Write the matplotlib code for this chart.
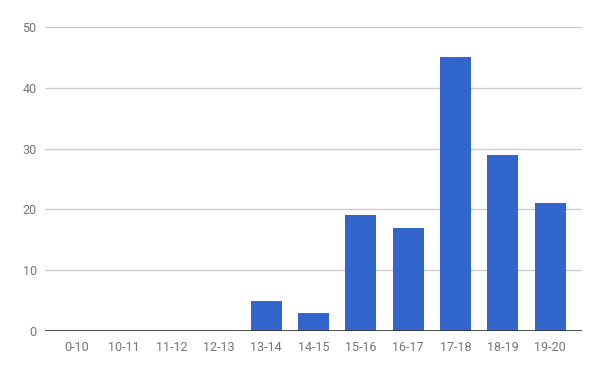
import matplotlib
matplotlib.use("Agg")
import matplotlib.pyplot as plt

plt.rcParams['font.family'] = ['Roboto', 'DejaVu Sans']

# Data
categories = ['0-10', '10-11', '11-12', '12-13', '13-14', '14-15',
              '15-16', '16-17', '17-18', '18-19', '19-20']
counts = [0, 0, 0, 0, 5, 3, 19, 17, 45, 29, 21]
y_ticks = [0, 10, 20, 30, 40, 50]

fig = plt.figure(figsize=(6, 3.71), dpi=100)
ax = fig.add_axes([45 / 600, 1 - 331 / 371, (582 - 45) / 600, (331 - 27) / 371])

x = range(len(categories))
ax.bar(x, counts, width=0.655, color='#3366cc', zorder=3)

ax.set_xlim(-0.675, len(categories) - 0.325)
ax.set_ylim(0, 50)
ax.set_yticks(y_ticks)
ax.set_xticks(list(x))
ax.set_xticklabels(categories)

ax.grid(axis='y', color='#cccccc', linewidth=1, zorder=0)
ax.axhline(0, color='#333333', linewidth=1.2, zorder=4)

for side in ['top', 'right', 'left', 'bottom']:
    ax.spines[side].set_visible(False)
ax.tick_params(length=0, colors='#757575', labelsize=9)
ax.tick_params(axis='y', pad=6)
ax.tick_params(axis='x', pad=7)

fig.savefig('out.png', dpi=100)
plt.close(fig)
